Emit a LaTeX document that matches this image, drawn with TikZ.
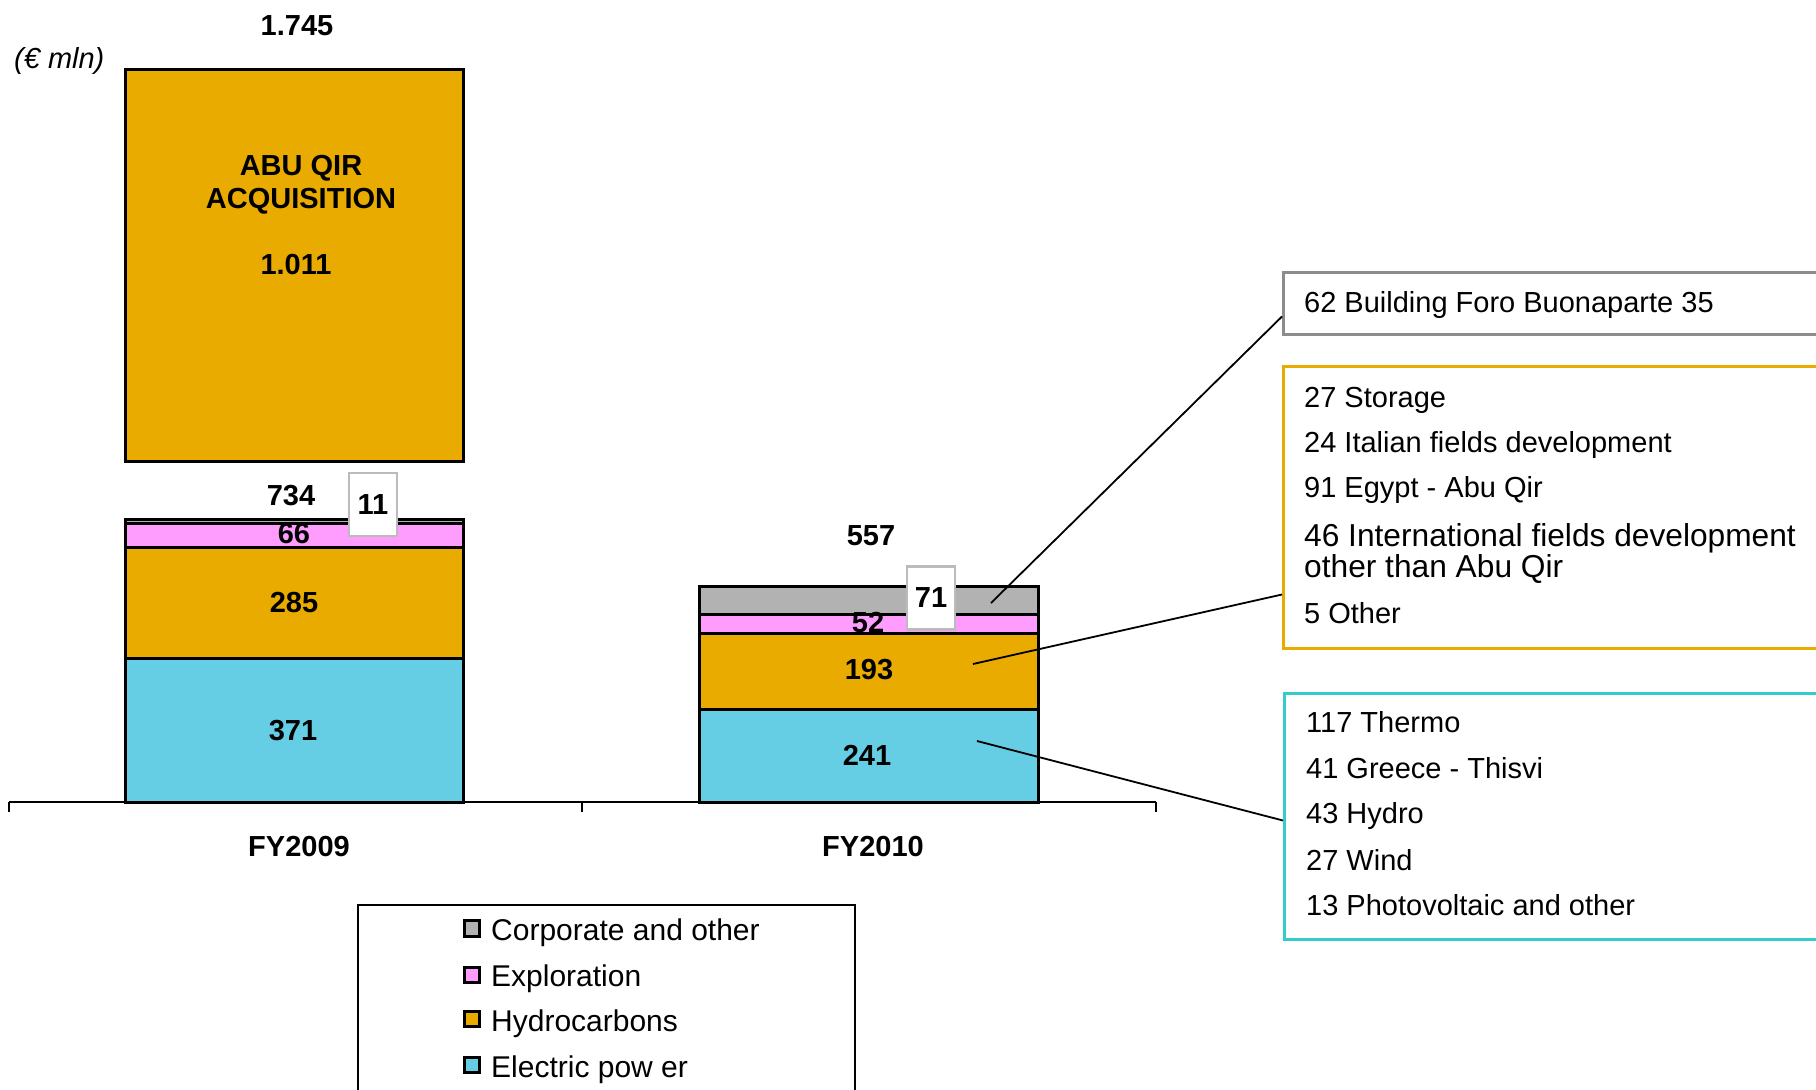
\documentclass[tikz,border=0pt]{standalone}
\usepackage{fontspec}
\setmainfont{Liberation Sans}
\definecolor{hc}{HTML}{E9AB00}
\definecolor{ep}{HTML}{66CEE4}
\definecolor{ex}{HTML}{FF9DFF}
\definecolor{co}{HTML}{B2B2B2}
\definecolor{gborder}{HTML}{8C8C8C}
\definecolor{cborder}{HTML}{33CCCC}
\definecolor{vborder}{HTML}{BBBBBB}
\tikzset{
 lbl/.style={font=\fontsize{29}{34}\selectfont\bfseries, anchor=base, inner sep=0pt},
 txt/.style={font=\fontsize{29}{34}\selectfont, anchor=base west, inner sep=0pt},
 bigtxt/.style={font=\fontsize{31.7}{36}\selectfont, anchor=base west, inner sep=0pt},
 legtxt/.style={font=\fontsize{30}{34}\selectfont, anchor=base west, inner sep=0pt},
 seg/.style={draw=black, line width=3pt},
 valbox/.style={draw=vborder, line width=2.8pt, fill=white, minimum width=48pt, minimum height=63pt, inner sep=0pt, font=\fontsize{29}{34}\selectfont\bfseries},
 callout/.style={line width=3pt, fill=white, anchor=north west, minimum width=560pt, inner sep=0pt},
 conn/.style={line width=1.8pt, draw=black},
 legsq/.style={draw=black, line width=2.6pt, minimum size=15.5pt, inner sep=0pt}
}
\begin{document}
\begin{tikzpicture}[x=1pt,y=-1pt]
\clip (0,0) rectangle (1816,1090);
\fill[white] (0,0) rectangle (1816,1090);
% Abu Qir acquisition block
\filldraw[seg, fill=hc] (125,69) rectangle (463,461);
\node[lbl] (abu1) at (301,175) {ABU QIR};
\node[lbl] (abu2) at (301,208) {ACQUISITION};
\node[lbl] (abuv) at (296,274) {1.011};
\node[lbl] (tot1) at (297,35) {1.745};
\node[txt, font=\fontsize{29}{34}\selectfont\itshape] (unit) at (14,68) {(€ mln)};
% FY2009 bar
\filldraw[seg, fill=ep] (125,658) rectangle (463,802);
\filldraw[seg, fill=hc] (125,547) rectangle (463,658);
\filldraw[seg, fill=ex] (125,523) rectangle (463,547);
\filldraw[seg, fill=co] (125,519) rectangle (463,523);
% FY2010 bar
\filldraw[seg, fill=ep] (699,709) rectangle (1038,802);
\filldraw[seg, fill=hc] (699,633) rectangle (1038,709);
\filldraw[seg, fill=ex] (699,614) rectangle (1038,633);
\filldraw[seg, fill=co] (699,586) rectangle (1038,614);
% axis
\draw[line width=2pt] (9,802) -- (1156,802);
\foreach \tx in {9,582,1156} \draw[line width=2pt] (\tx,802) -- (\tx,812);
% bar labels
\node[lbl] (t09) at (291,505) {734};
\node[lbl] (l66) at (294,543) {66};
\node[lbl] (l285) at (294,612) {285};
\node[lbl] (l371) at (293,740) {371};
\node[lbl] (t10) at (871,545) {557};
\node[lbl] (l52) at (868,632) {52};
\node[lbl] (l193) at (869,679) {193};
\node[lbl] (l241) at (867,765) {241};
\node[lbl] (fy09) at (299,856) {FY2009};
\node[lbl] (fy10) at (873,856) {FY2010};
\node[valbox] (v11) at (373,504.5) {11};
\node[valbox] (v71) at (931,598) {71};
% callout boxes
\node[callout, draw=gborder, minimum height=62pt] (gbox) at (1282,271) {};
\node[callout, draw=hc, minimum height=282pt] (obox) at (1282,365) {};
\node[callout, draw=cborder, minimum height=246pt] (cbox) at (1283,692) {};
\node[txt] (g1) at (1304,312) {62 Building Foro Buonaparte 35};
\node[txt] (o1) at (1304,407) {27 Storage};
\node[txt] (o2) at (1304,452) {24 Italian fields development};
\node[txt] (o3) at (1304,497) {91 Egypt - Abu Qir};
\node[bigtxt] (o4) at (1304,546) {46 International fields development};
\node[bigtxt] (o5) at (1304,577) {other than Abu Qir};
\node[txt] (o6) at (1304,623) {5 Other};
\node[txt] (c1) at (1306,732) {117 Thermo};
\node[txt] (c2) at (1306,778) {41 Greece - Thisvi};
\node[txt] (c3) at (1306,823) {43 Hydro};
\node[txt] (c4) at (1306,870) {27 Wind};
\node[txt] (c5) at (1306,915) {13 Photovoltaic and other};
% connectors
\coordinate (gs) at (991,603);
\coordinate (os) at (973,664);
\coordinate (cs) at (977,741);
\draw[conn] (gs) -- ([yshift=-13pt]gbox.west);
\draw[conn] (os) -- ([yshift=-87pt]obox.west);
\draw[conn] (cs) -- ([yshift=-4pt]cbox.west);
% legend
\draw[line width=2pt] (358,905) rectangle (855,1120);
\node[legsq, fill=co] (sq1) at (472,928.5) {};
\node[legsq, fill=ex] (sq2) at (472,975) {};
\node[legsq, fill=hc] (sq3) at (472,1019) {};
\node[legsq, fill=ep] (sq4) at (472,1065) {};
\node[legtxt] (lg1) at (491,940) {Corporate and other};
\node[legtxt] (lg2) at (491,986) {Exploration};
\node[legtxt] (lg3) at (491,1031) {Hydrocarbons};
\node[legtxt] (lg4) at (491,1077) {Electric pow er};
\end{tikzpicture}
\end{document}
